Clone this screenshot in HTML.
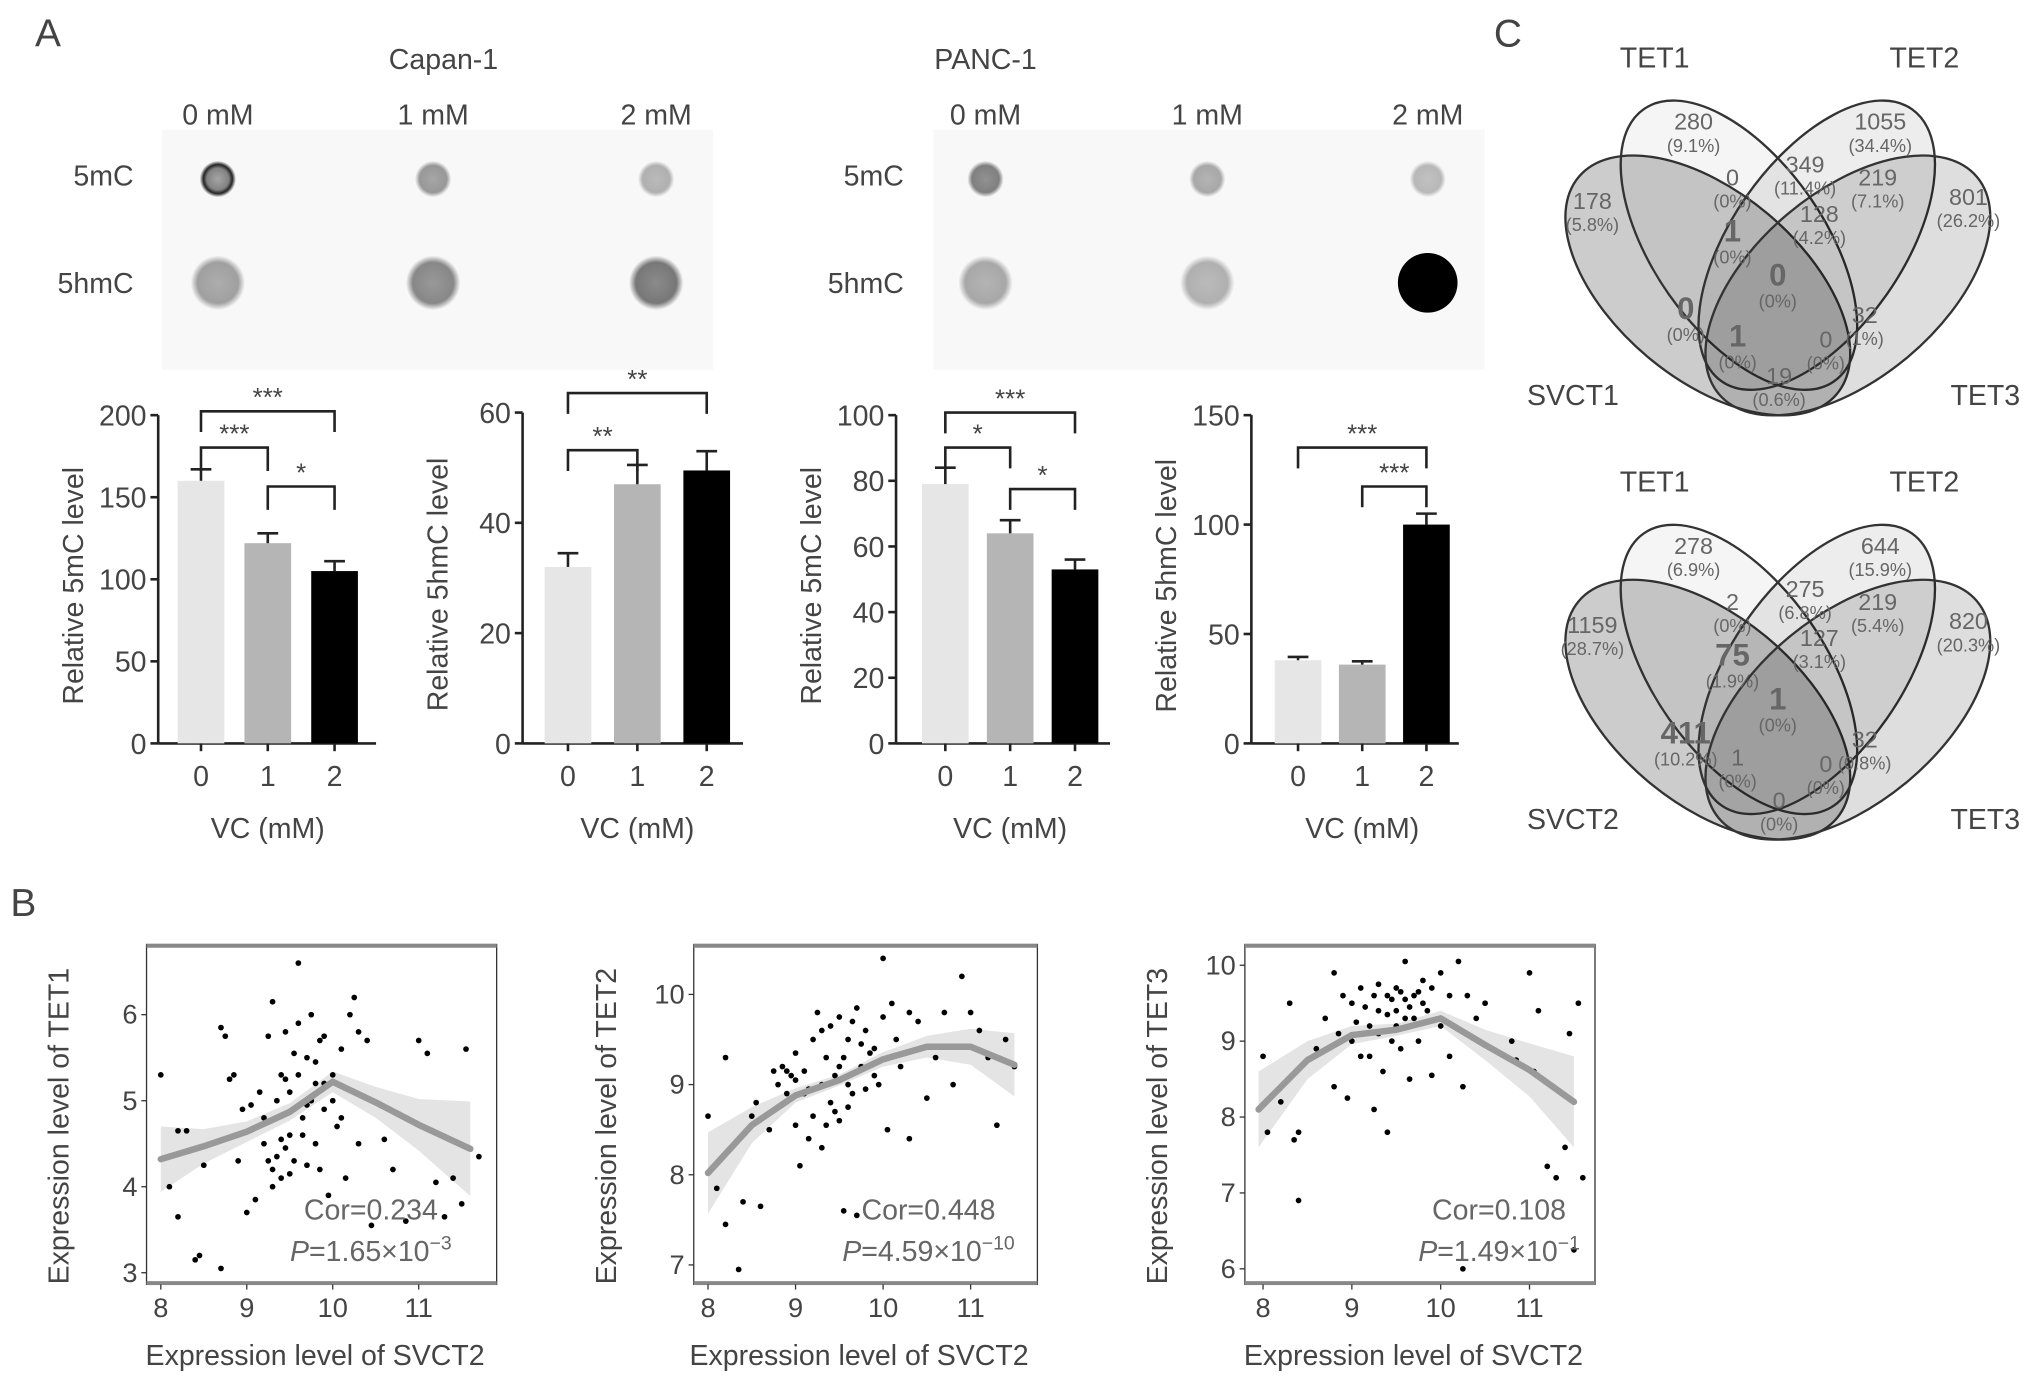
<!DOCTYPE html>
<html><head><meta charset="utf-8"><style>
html,body{margin:0;padding:0;background:#fff;}
svg{display:block;font-family:"Liberation Sans",sans-serif;}
text{fill:#444;}
</style></head><body>
<svg id="fig" width="2032" height="1383" viewBox="0 0 1567 1066" preserveAspectRatio="none" xmlns="http://www.w3.org/2000/svg">
<defs>
<radialGradient id="gDot"><stop offset="0" stop-color="#000" stop-opacity="0.55"/><stop offset="0.75" stop-color="#000" stop-opacity="0.65"/><stop offset="1" stop-color="#000" stop-opacity="0"/></radialGradient>
<radialGradient id="gRing"><stop offset="0" stop-color="#000" stop-opacity="0.35"/><stop offset="0.6" stop-color="#000" stop-opacity="0.5"/><stop offset="0.8" stop-color="#000" stop-opacity="0.9"/><stop offset="1" stop-color="#000" stop-opacity="0"/></radialGradient>
</defs>
<text x="27" y="36" font-size="30">A</text>
<text x="8" y="706" font-size="30">B</text>
<text x="1152" y="36" font-size="30">C</text>
<text x="342" y="53" font-size="22" text-anchor="middle">Capan-1</text>
<text x="760" y="53" font-size="22" text-anchor="middle">PANC-1</text>
<g id="blots"></g>
<g id="bars"></g>
<g id="venns"></g>
<g id="scatters"></g>
</svg>
<script>
const NS='http://www.w3.org/2000/svg';
function mk(p,tag,attrs,txt){const e=document.createElementNS(NS,tag);for(const k in attrs)e.setAttribute(k,attrs[k]);if(txt!==undefined)e.textContent=txt;p.appendChild(e);return e;}

// ---------- Blots ----------
const blotConc=['0 mM','1 mM','2 mM'];
const capan5mC=[0.95,0.6,0.45];
const capan5hmC=[0.55,0.7,0.8];
const panc5mC=[0.75,0.5,0.4];
const panc5hmC=[0.5,0.45,1.0];
const blotsG=document.getElementById('blots');
function blot(x0,cols,v1,v2,lx){
  const bg=mk(blotsG,'rect',{x:x0,y:100,width:425,height:185,fill:'#f8f8f8'});
  
  
  const l1=mk(blotsG,'text',{x:lx,y:143,'font-size':22,'text-anchor':'end'},'5mC');
  
  
  const l2=mk(blotsG,'text',{x:lx,y:226,'font-size':22,'text-anchor':'end'},'5hmC');
  
  
  cols.forEach((cx,i)=>{
    const t=mk(blotsG,'text',{x:cx,y:96,'font-size':22,'text-anchor':'middle'},blotConc[i]);
    
    
    const d1=mk(blotsG,'circle',{cx:cx,cy:138,r:14,fill:i==0&&v1[i]>0.9?'url(#gRing)':'url(#gDot)',opacity:v1[i]});
    
    
    const d2=mk(blotsG,'circle',{cx:cx,cy:218,r:21,fill:'url(#gDot)',opacity:v2[i]});
    if(v2[i]>=1){d2.setAttribute('fill','#000');d2.setAttribute('r',23);}
    
    
  });
}
blot(125,[168,334,506],capan5mC,capan5hmC,103);
blot(720,[760,931,1101],panc5mC,panc5hmC,697);

// ---------- Bar charts ----------
const barCats=['0','1','2'];
const capan5mCVals=[160,122,105];
const capan5mCErr=[7,6,6];
const capan5hmCVals=[32,47,49.5];
const capan5hmCErr=[2.5,3.5,3.5];
const panc5mCVals=[79,64,53];
const panc5mCErr=[5,4,3];
const panc5hmCVals=[38,36,100];
const panc5hmCErr=[1.5,1.5,5];
const barColors=['#e6e6e6','#b5b5b5','#000'];
const barsG=document.getElementById('bars');
function barChart(cfg){
  const y=v=>cfg.y0-(v/cfg.ymax)*(cfg.y0-cfg.ytop);
  const x=i=>cfg.ax+cfg.off+i*cfg.sp;
  const g=mk(barsG,'g',{});
  
  
  mk(g,'line',{x1:cfg.ax,y1:cfg.ytop,x2:cfg.ax,y2:cfg.y0,stroke:'#222','stroke-width':2});
  mk(g,'line',{x1:cfg.ax,y1:cfg.y0,x2:cfg.ax+cfg.len,y2:cfg.y0,stroke:'#222','stroke-width':2});
  cfg.ticks.forEach(t=>{
    mk(g,'line',{x1:cfg.ax-6,y1:y(t),x2:cfg.ax,y2:y(t),stroke:'#222','stroke-width':2});
    const tl=mk(g,'text',{x:cfg.ax-9,y:y(t)+8,'font-size':22,'text-anchor':'end'},String(t));
    
    
  });
  cfg.vals.forEach((v,i)=>{
    const b=mk(g,'rect',{x:x(i)-18,y:y(v),width:36,height:cfg.y0-y(v),fill:barColors[i]});
    
    
    const e=cfg.err[i];
    mk(g,'line',{x1:x(i),y1:y(v),x2:x(i),y2:y(v+e),stroke:'#222','stroke-width':2});
    mk(g,'line',{x1:x(i)-8,y1:y(v+e),x2:x(i)+8,y2:y(v+e),stroke:'#222','stroke-width':2});
    mk(g,'line',{x1:x(i),y1:cfg.y0,x2:x(i),y2:cfg.y0+6,stroke:'#222','stroke-width':2});
    const tl=mk(g,'text',{x:x(i),y:cfg.y0+33,'font-size':22,'text-anchor':'middle'},barCats[i]);
    
    
  });
  const xt=mk(g,'text',{x:x(1),y:cfg.y0+73,'font-size':22,'text-anchor':'middle'},'VC (mM)');
  
  
  const yt=mk(g,'text',{x:0,y:0,'font-size':22,'text-anchor':'middle',transform:`translate(${cfg.ax-58},${(cfg.y0+cfg.ytop)/2+5}) rotate(-90)`},cfg.ylab);
  
  
  cfg.sig.forEach(s=>{
    const [a,b,ly,lab,drop]=s;
    mk(g,'path',{d:`M${x(a)},${ly+drop} V${ly} H${x(b)} V${ly+drop}`,fill:'none',stroke:'#222','stroke-width':2});
    const st=mk(g,'text',{x:(x(a)+x(b))/2,y:ly-4,'font-size':20,'text-anchor':'middle'},lab);
    
    
  });
}
barChart({name:'capan-5mc-bar-chart',ax:122,y0:573,ytop:320,ymax:200,off:33,sp:51.5,len:168,ticks:[0,50,100,150,200],vals:capan5mCVals,err:capan5mCErr,ylab:'Relative 5mC level',sig:[[0,2,317,'***',16],[0,1,345,'***',18],[1,2,375,'*',18]]});
barChart({name:'capan-5hmc-bar-chart',ax:403,y0:573,ytop:318,ymax:60,off:35,sp:53.5,len:170,ticks:[0,20,40,60],vals:capan5hmCVals,err:capan5hmCErr,ylab:'Relative 5hmC level',sig:[[0,2,303,'**',16],[0,1,347,'**',16]]});
barChart({name:'panc-5mc-bar-chart',ax:691,y0:573,ytop:320,ymax:100,off:38,sp:50,len:165,ticks:[0,20,40,60,80,100],vals:panc5mCVals,err:panc5mCErr,ylab:'Relative 5mC level',sig:[[0,2,318,'***',16],[0,1,345,'*',16],[1,2,377,'*',16]]});
barChart({name:'panc-5hmc-bar-chart',ax:965,y0:573,ytop:320,ymax:150,off:36,sp:49.5,len:160,ticks:[0,50,100,150],vals:panc5hmCVals,err:panc5hmCErr,ylab:'Relative 5hmC level',sig:[[0,2,345,'***',16],[1,2,375,'***',16]]});

// ---------- Venn diagrams ----------
const venn1Counts=['280','1055','0','349','219','178','801','1','128','0','0','32','1','0','19'];
const venn1Pcts=['(9.1%)','(34.4%)','(0%)','(11.4%)','(7.1%)','(5.8%)','(26.2%)','(0%)','(4.2%)','(0%)','(0%)','(1%)','(0%)','(0%)','(0.6%)'];
const venn2Counts=['278','644','2','275','219','1159','820','75','127','1','411','32','1','0','0'];
const venn2Pcts=['(6.9%)','(15.9%)','(0%)','(6.8%)','(5.4%)','(28.7%)','(20.3%)','(1.9%)','(3.1%)','(0%)','(10.2%)','(0.8%)','(0%)','(0%)','(0%)'];
const vennBig=[false,false,false,false,false,false,false,true,false,true,true,false,true,false,false];
const vennBig2=[false,false,false,false,false,false,false,true,false,true,true,false,false,false,false];
const regionPos=[[1306,94],[1450,94],[1336,137],[1392,127],[1448,137],[1228,155],[1518,152],[1336,176],[1403,165],[1371,210],[1300,236],[1438,243],[1340,257],[1408,262],[1372,290]];
const vennG=document.getElementById('venns');
function venn(dy,counts,pcts,big,svct,name){
  const g=mk(vennG,'g',{transform:`translate(0,${dy})`});
  
  
  const ells=[[1317,220,40,130,72,0.2,svct],[1341,189,55,128,66,0.04,'TET1'],[1401,189,-55,128,66,0.07,'TET2'],[1425,220,-40,130,72,0.13,'TET3']];
  ells.forEach(e=>{
    const el=mk(g,'ellipse',{cx:0,cy:0,rx:e[3],ry:e[4],transform:`translate(${e[0]},${e[1]}) rotate(${e[2]})`,fill:'#000','fill-opacity':e[5],stroke:'#333','stroke-width':1.8});
    
    
  });
  [['TET1',1276,52],['TET2',1484,52],[svct,1213,312],['TET3',1531,312]].forEach(l=>{
    const t=mk(g,'text',{x:l[1],y:l[2],'font-size':22,'text-anchor':'middle'},l[0]);
    
    
  });
  counts.forEach((c,i)=>{
    const [px,py]=regionPos[i];
    const t=mk(g,'text',{x:px,y:py+6+(big[i]?4:0),'font-size':big[i]?24:18,'font-weight':big[i]?'bold':'normal','text-anchor':'middle',style:'fill:#666'},c);
    
    
    const p=mk(g,'text',{x:px,y:py+23+(big[i]?4:0),'font-size':14,'text-anchor':'middle',style:'fill:#666'},pcts[i]);
    
    
  });
}
venn(0,venn1Counts,venn1Pcts,vennBig,'SVCT1','venn-svct1');
venn(327,venn2Counts,venn2Pcts,vennBig2,'SVCT2','venn-svct2');

// ---------- Scatter plots ----------
const s1Pts=[[8.0,5.3],[8.1,4.0],[8.2,3.65],[8.2,4.65],[8.3,4.65],[8.4,3.15],[8.45,3.2],[8.5,4.25],[8.7,3.05],[8.7,5.85],[8.75,5.75],[8.8,5.25],[8.85,5.3],[8.9,4.3],[8.95,4.9],[9.0,3.7],[9.05,4.95],[9.1,3.85],[9.15,5.1],[9.2,4.5],[9.25,5.75],[9.3,6.15],[9.3,4.2],[9.35,4.35],[9.4,5.3],[9.4,4.1],[9.45,5.8],[9.5,4.6],[9.5,5.1],[9.55,4.3],[9.6,6.6],[9.6,5.9],[9.65,4.8],[9.7,5.5],[9.7,4.25],[9.75,6.0],[9.8,5.2],[9.8,4.5],[9.85,5.7],[9.9,4.9],[9.9,5.75],[9.95,3.9],[10.0,5.3],[10.0,5.0],[10.05,4.7],[10.1,5.6],[10.15,4.1],[10.2,6.0],[10.25,6.2],[10.3,5.8],[10.3,4.5],[10.4,5.7],[10.45,3.55],[10.6,4.55],[10.7,4.2],[10.85,3.6],[11.0,5.7],[11.1,5.55],[11.2,4.05],[11.3,3.65],[11.4,4.1],[11.5,3.8],[11.55,5.6],[11.7,4.35],[9.3,4.0],[9.45,4.45],[9.55,5.55],[9.65,4.6],[9.75,5.0],[9.85,4.2],[10.1,4.8],[9.2,4.8],[9.35,5.0],[9.6,5.3],[9.4,4.55],[9.5,4.15],[9.7,4.95],[9.9,5.2],[9.25,4.3],[9.45,5.25],[9.55,4.9],[9.8,5.45]];
const s2Pts=[[8.0,8.65],[8.1,7.85],[8.2,7.45],[8.2,9.3],[8.35,6.95],[8.4,7.7],[8.5,8.65],[8.55,8.8],[8.6,7.65],[8.7,8.5],[8.75,9.15],[8.8,9.0],[8.85,9.2],[8.9,8.9],[8.95,9.1],[9.0,8.55],[9.0,9.35],[9.05,8.1],[9.1,8.9],[9.1,9.15],[9.15,8.4],[9.2,9.5],[9.2,8.65],[9.25,9.8],[9.3,9.0],[9.3,8.3],[9.35,9.3],[9.4,9.65],[9.4,8.8],[9.45,9.1],[9.5,9.75],[9.5,8.6],[9.55,9.3],[9.55,7.6],[9.6,9.0],[9.6,9.5],[9.65,8.9],[9.7,9.85],[9.7,7.55],[9.75,9.2],[9.8,9.6],[9.8,8.95],[9.9,9.4],[9.95,9.0],[10.0,10.4],[10.0,9.75],[10.05,8.5],[10.1,9.9],[10.15,9.5],[10.2,9.2],[10.3,8.4],[10.3,9.8],[10.4,9.7],[10.5,8.85],[10.6,9.3],[10.7,9.8],[10.8,9.0],[10.9,10.2],[11.0,9.8],[11.1,9.6],[11.2,9.3],[11.3,8.55],[11.4,9.5],[11.5,9.2],[9.3,9.6],[9.45,8.7],[9.65,9.7],[9.85,9.35],[8.9,9.15],[9.0,9.05],[9.15,8.95],[9.35,8.55],[9.5,9.2],[9.6,8.75],[9.75,9.45],[9.9,9.1]];
const s3Pts=[[8.0,8.8],[8.05,7.8],[8.2,8.2],[8.3,9.5],[8.35,7.7],[8.4,7.8],[8.4,6.9],[8.6,8.9],[8.7,9.3],[8.8,8.4],[8.8,9.9],[8.9,9.6],[8.95,8.25],[9.0,9.0],[9.0,9.5],[9.1,8.8],[9.1,9.7],[9.2,9.2],[9.2,8.8],[9.25,8.1],[9.3,9.4],[9.3,9.75],[9.35,8.6],[9.4,7.8],[9.4,9.6],[9.45,9.0],[9.5,9.4],[9.5,9.7],[9.55,8.9],[9.6,10.05],[9.6,9.3],[9.65,8.5],[9.7,9.6],[9.75,9.0],[9.8,9.8],[9.85,9.4],[9.9,8.55],[9.9,9.7],[10.0,9.2],[10.0,9.9],[10.1,9.6],[10.1,8.8],[10.2,10.05],[10.25,8.4],[10.3,9.6],[10.4,9.3],[10.5,9.5],[10.8,9.0],[10.85,8.75],[11.0,9.9],[11.05,8.6],[11.1,9.4],[11.2,7.35],[11.3,7.2],[11.4,7.6],[11.45,9.1],[11.5,6.25],[11.55,9.5],[11.6,7.2],[10.25,6.0],[9.5,9.2],[9.6,9.55],[9.7,9.3],[9.4,9.35],[9.8,9.5],[9.3,9.1],[9.15,9.45],[9.25,9.6],[9.45,9.55],[9.55,9.65],[9.65,9.45],[9.75,9.65],[9.05,9.25],[8.85,9.1]];
const s1Fit=[[8.0,4.32],[8.5,4.47],[9.0,4.64],[9.5,4.87],[10.0,5.22],[10.5,4.98],[11.0,4.72],[11.6,4.44]];
const s2Fit=[[8.0,8.02],[8.5,8.55],[9.0,8.88],[9.5,9.05],[10.0,9.28],[10.5,9.42],[11.0,9.42],[11.5,9.22]];
const s3Fit=[[7.95,8.1],[8.5,8.75],[9.0,9.08],[9.5,9.15],[10.0,9.3],[10.5,8.95],[11.0,8.62],[11.5,8.2]];
const s1Band=[0.38,0.2,0.12,0.1,0.12,0.18,0.3,0.55];
const s2Band=[0.45,0.2,0.08,0.06,0.08,0.12,0.2,0.35];
const s3Band=[0.5,0.25,0.12,0.08,0.1,0.2,0.35,0.6];
const scG=document.getElementById('scatters');
function scatter(cfg){
  const X=v=>cfg.px8+(v-8)*cfg.ux;
  const Y=v=>cfg.py0-(v-cfg.yv0)*cfg.uy;
  const g=mk(scG,'g',{});
  
  
  mk(g,'rect',{x:cfg.bx,y:728,width:cfg.bw,height:262,fill:'#fff',stroke:'#333','stroke-width':1});
  mk(g,'line',{x1:cfg.bx,y1:729,x2:cfg.bx+cfg.bw,y2:729,stroke:'#888','stroke-width':3});
  mk(g,'line',{x1:cfg.bx,y1:989,x2:cfg.bx+cfg.bw,y2:989,stroke:'#888','stroke-width':3});
  let up='',lo='';
  cfg.fit.forEach((p,i)=>{up+=(i?'L':'M')+X(p[0])+','+Y(p[1]+cfg.band[i]);});
  for(let i=cfg.fit.length-1;i>=0;i--){lo+='L'+X(cfg.fit[i][0])+','+Y(cfg.fit[i][1]-cfg.band[i]);}
  const band=mk(g,'path',{d:up+lo+'Z',fill:'#e4e4e4'});
  
  
  cfg.pts.forEach(p=>{
    const c=mk(g,'circle',{cx:X(p[0]),cy:Y(p[1]),r:2.2,fill:'#000'});
    
    
  });
  const fl=mk(g,'polyline',{points:cfg.fit.map(p=>X(p[0])+','+Y(p[1])).join(' '),fill:'none',stroke:'#999','stroke-width':5,'stroke-linejoin':'round','stroke-linecap':'round'});
  
  
  [8,9,10,11].forEach(t=>{
    mk(g,'line',{x1:X(t),y1:990,x2:X(t),y2:994,stroke:'#333'});
    const tl=mk(g,'text',{x:X(t),y:1015,'font-size':21,'text-anchor':'middle'},String(t));
    
    
  });
  cfg.yt.forEach(t=>{
    mk(g,'line',{x1:cfg.bx-4,y1:Y(t),x2:cfg.bx,y2:Y(t),stroke:'#333'});
    const tl=mk(g,'text',{x:cfg.bx-7,y:Y(t)+7,'font-size':21,'text-anchor':'end'},String(t));
    
    
  });
  const xt=mk(g,'text',{x:cfg.bx+cfg.bw/2-5,y:1052,'font-size':22,'text-anchor':'middle'},'Expression level of SVCT2');
  
  
  const yt=mk(g,'text',{x:0,y:0,'font-size':22,'text-anchor':'middle',transform:`translate(${cfg.bx-60},${868}) rotate(-90)`},cfg.ylab);
  
  
  const ct=mk(g,'text',{x:cfg.cx,y:940,'font-size':22,'text-anchor':'middle',style:'fill:#666'},cfg.cor);
  
  
  const pt=mk(g,'text',{x:cfg.cx,y:972,'font-size':22,'text-anchor':'middle',style:'fill:#666'});
  
  
  mk(pt,'tspan',{'font-style':'italic'},'P');
  mk(pt,'tspan',{},'='+cfg.p+'×10');
  mk(pt,'tspan',{dy:-9,'font-size':15},cfg.exp);
}
scatter({name:'scatter-tet1',bx:113,bw:270,px8:124,ux:66.3,py0:981,yv0:3,uy:66.3,yt:[3,4,5,6],pts:s1Pts,fit:s1Fit,band:s1Band,ylab:'Expression level of TET1',cx:286,cor:'Cor=0.234',p:'1.65',exp:'−3'});
scatter({name:'scatter-tet2',bx:535,bw:265,px8:546,ux:67.5,py0:975,yv0:7,uy:69.5,yt:[7,8,9,10],pts:s2Pts,fit:s2Fit,band:s2Band,ylab:'Expression level of TET2',cx:716,cor:'Cor=0.448',p:'4.59',exp:'−10'});
scatter({name:'scatter-tet3',bx:960,bw:270,px8:974,ux:68.5,py0:978,yv0:6,uy:58.5,yt:[6,7,8,9,10],pts:s3Pts,fit:s3Fit,band:s3Band,ylab:'Expression level of TET3',cx:1156,cor:'Cor=0.108',p:'1.49',exp:'−1'});
</script>
</body></html>
